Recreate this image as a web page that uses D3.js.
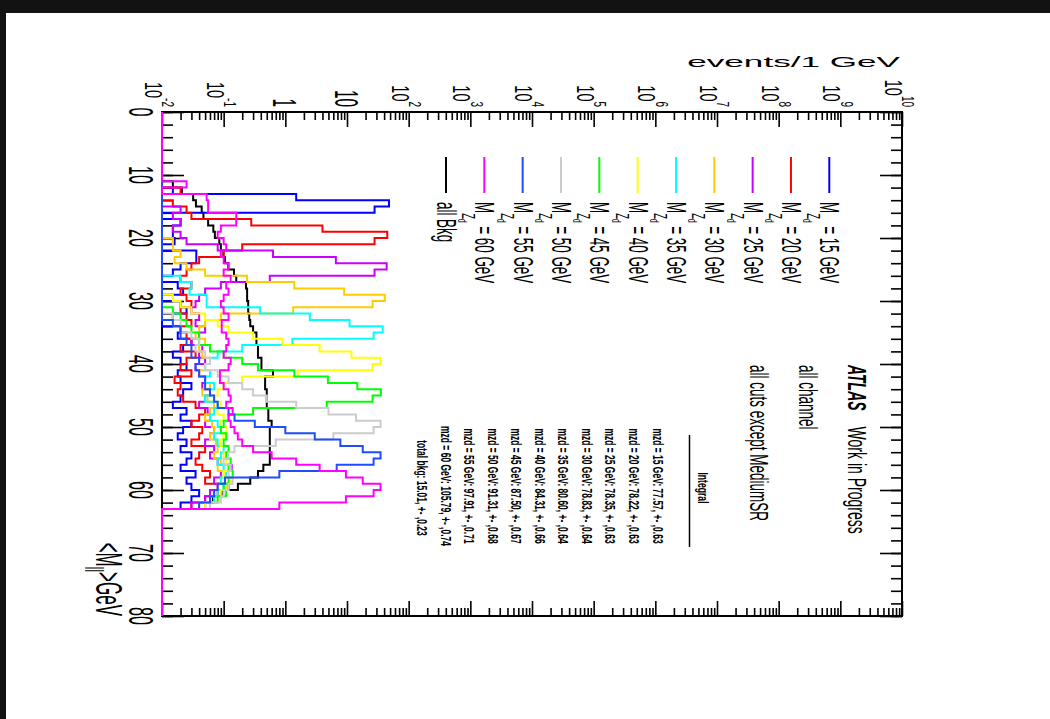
<!DOCTYPE html>
<html>
<head>
<meta charset="utf-8">
<script src="https://cdn.jsdelivr.net/npm/d3@7"></script>
<style>
  body { margin: 0; background: #fff; }
  svg { display: block; }
  text { font-family: "Liberation Sans", Arial, Helvetica, sans-serif; fill: #000; }
</style>
</head>
<body>
<svg id="chart" width="1050" height="719"></svg>
<script>
// ---- data -------------------------------------------------------------
// <M_ll> histograms, 1 GeV bins; every array starts at bin [11,12) and ends at [62,63)
const firstBin = 11;
const massPoints = [15, 20, 25, 30, 35, 40, 45, 50, 55, 60];
const seriesColors = ["#0000ff", "#ff0000", "#cc00ff", "#ffcc00", "#00ffff",
                      "#ffff00", "#00ff00", "#cccccc", "#1f4cff", "#ff00ff"];
const bkgColor = "#000000";

const allBkg = [
  0.015, 0.021, 0.032, 0.0355, 0.044, 0.047, 0.056, 0.068, 0.072, 0.085,
  0.09, 0.099, 0.105, 0.119, 0.147, 0.16, 0.23, 0.24, 0.24, 0.25,
  0.25, 0.26, 0.27, 0.30, 0.34, 0.34, 0.36, 0.36, 0.41, 0.41,
  0.63, 0.47, 0.47, 0.50, 0.50, 0.50, 0.53, 0.53, 0.60, 0.56,
  0.56, 0.56, 0.56, 0.56, 0.56, 0.44, 0.36, 0.27, 0.17, 0.093,
  0.067, 0.05];
const mzd15 = [
  0, 0.015, 1.5, 48, 28, 0, 0.02, 0.015, 0.015, 0.016,
  0, 0.036, 0.036, 0.02, 0.015, 0, 0.018, 0.022, 0, 0.02,
  0.025, 0.015, 0, 0.02, 0.018, 0.03, 0.022, 0.015, 0.02, 0.025,
  0.018, 0.02, 0.03, 0.022, 0.02, 0.015, 0.025, 0.02, 0.03, 0.022,
  0.018, 0.025, 0.02, 0.03, 0.025, 0.02, 0.035, 0.025, 0.03, 0.04,
  0.03, 0.02];
const mzd20 = [
  0, 0.02, 0, 0.015, 0.025, 0.03, 0.28, 4.0, 45, 28,
  0.2, 0.1, 0.04, 0.03, 0.025, 0.02, 0.03, 0.02, 0.025, 0.03,
  0.02, 0.025, 0.03, 0.02, 0.025, 0.03, 0.02, 0.035, 0.025, 0.02,
  0.03, 0.016, 0.02, 0.018, 0.022, 0.035, 0.05, 0.04, 0.03, 0.045,
  0.04, 0.03, 0.05, 0.04, 0.035, 0.045, 0.06, 0.05, 0.12, 0.08,
  0.05, 0.03];
const mzd25 = [
  0, 0, 0, 0, 0.02, 0.015, 0.02, 0.015, 0.02, 0.025,
  0.08, 0.63, 6.6, 44, 28, 0.56, 0.09, 0.05, 0.04, 0.035,
  0.03, 0.04, 0.035, 0.05, 0.04, 0.03, 0.045, 0.04, 0.05, 0.035,
  0.04, 0.05, 0.045, 0.06, 0.05, 0.04, 0.055, 0.06, 0.05, 0.07,
  0.06, 0.05, 0.07, 0.06, 0.08, 0.135, 0.09, 0.07, 0.08, 0.06,
  0.05, 0.03];
const mzd30 = [
  0, 0, 0, 0, 0, 0, 0, 0, 0, 0.015,
  0.015, 0.02, 0.016, 0.025, 0.05, 0.24, 1.4, 9, 41, 26,
  1.34, 0.09, 0.05, 0.04, 0.035, 0.05, 0.04, 0.045, 0.06, 0.05,
  0.04, 0.05, 0.06, 0.045, 0.055, 0.07, 0.06, 0.05, 0.065, 0.07,
  0.06, 0.075, 0.08, 0.07, 0.09, 0.08, 0.1, 0.09, 0.08, 0.07,
  0.06, 0.04];
const mzd35 = [
  0, 0, 0, 0, 0, 0, 0, 0, 0, 0,
  0, 0, 0, 0, 0, 0.02, 0.03, 0.028, 0.053, 0.053,
  0.39, 2.5, 11, 38, 27, 1.3, 0.2, 0.08, 0.06, 0.05,
  0.06, 0.05, 0.07, 0.06, 0.05, 0.08, 0.07, 0.06, 0.08, 0.09,
  0.07, 0.08, 0.1, 0.09, 0.08, 0.1, 0.11, 0.09, 0.1, 0.08,
  0.07, 0.05];
const mzd40 = [
  0, 0, 0, 0, 0, 0, 0, 0, 0, 0,
  0, 0, 0, 0, 0, 0, 0, 0, 0.015, 0.02,
  0.03, 0.05, 0.08, 0.12, 0.3, 0.9, 3.6, 11.8, 35, 26,
  1.6, 0.2, 0.1, 0.08, 0.07, 0.09, 0.08, 0.1, 0.09, 0.11,
  0.1, 0.09, 0.12, 0.1, 0.11, 0.12, 0.1, 0.13, 0.11, 0.09,
  0.08, 0.05];
const mzd45 = [
  0, 0, 0, 0, 0, 0, 0, 0, 0, 0,
  0, 0, 0, 0, 0, 0, 0, 0, 0, 0,
  0.015, 0.02, 0.025, 0.03, 0.04, 0.04, 0.06, 0.1, 0.2, 0.36,
  1.4, 4.9, 14.7, 35.4, 26, 4.7, 0.3, 0.12, 0.1, 0.09,
  0.11, 0.1, 0.12, 0.11, 0.13, 0.12, 0.14, 0.12, 0.1, 0.11,
  0.08, 0.06];
const mzd50 = [
  0, 0, 0, 0, 0, 0, 0, 0, 0, 0,
  0, 0, 0, 0, 0, 0, 0, 0, 0, 0,
  0, 0.015, 0.02, 0.02, 0.03, 0.04, 0.035, 0.05, 0.06, 0.05,
  0.08, 0.12, 0.2, 0.3, 0.5, 1.5, 5, 14, 35, 27,
  6, 0.7, 0.15, 0.12, 0.1, 0.13, 0.12, 0.14, 0.12, 0.1,
  0.09, 0.06];
const mzd55 = [
  0, 0, 0, 0, 0, 0, 0, 0, 0, 0,
  0, 0, 0, 0, 0, 0, 0, 0, 0, 0,
  0, 0, 0.015, 0.02, 0.02, 0.025, 0.03, 0.03, 0.04, 0.035,
  0.04, 0.05, 0.05, 0.06, 0.07, 0.08, 0.12, 0.15, 0.32, 1.0,
  3.0, 7.8, 18, 35, 27, 6.8, 0.8, 0.105, 0.08, 0.07,
  0.06, 0.04];
const mzd60 = [
  0.025, 0, 0.053, 0.056, 0.056, 0.16, 0.16, 0.09, 0.08, 0.1,
  0.11, 0.09, 0.1, 0.12, 0.1, 0.13, 0.11, 0.12, 0.1, 0.09,
  0.1, 0.12, 0.093, 0.093, 0.11, 0.12, 0.11, 0.1, 0.13, 0.12,
  0.087, 0.087, 0.1, 0.12, 0.13, 0.11, 0.14, 0.12, 0.13, 0.15,
  0.17, 0.2, 0.3, 0.6, 1.5, 3.6, 9.6, 18, 35, 27,
  9.6, 0.8];
const signalSeries = [mzd15, mzd20, mzd25, mzd30, mzd35, mzd40, mzd45, mzd50, mzd55, mzd60];

// integral table printed in the plot
const integrals = [77.57, 78.22, 78.35, 78.83, 80.60, 84.31, 87.50, 91.31, 97.91, 105.79];
const integralErrors = [0.63, 0.63, 0.63, 0.64, 0.64, 0.66, 0.67, 0.68, 0.71, 0.74];
const bkgIntegral = 15.01, bkgIntegralError = 0.23;

// axis definitions
const logExponents = d3.range(-2, 11);          // 10^-2 ... 10^10
const mllMajorTicks = d3.range(0, 81, 10);
const mllMinorTicks = d3.range(0, 81, 2);
const nBins = 80;

// ---- layout -----------------------------------------------------------
const svg = d3.select("#chart");
const frame = { left: 162, right: 902, top: 112, bottom: 616 };

// value axis (log) runs left -> right, <M_ll> axis runs top -> bottom
const xv = d3.scaleLog().domain([1e-2, 1e10]).range([frame.left, frame.right]);
const ym = d3.scaleLinear().domain([0, 80]).range([frame.top, frame.bottom]);

// dark surround at the top and left edge
svg.append("rect").attr("x", 0).attr("y", 0).attr("width", 1050).attr("height", 719).attr("fill", "#fff");
svg.append("rect").attr("x", 0).attr("y", 0).attr("width", 1050).attr("height", 13).attr("fill", "#121212");
svg.append("rect").attr("x", 0).attr("y", 0).attr("width", 6).attr("height", 719).attr("fill", "#121212");

// rotated text helper: reads top -> bottom, glyph tops point right, k stretches glyph height
function rotText(parent, X, Y, size, k, anchor) {
  return parent.append("text")
    .attr("transform", `translate(${X},${Y}) rotate(90) scale(1,${k})`)
    .attr("font-size", size)
    .attr("text-anchor", anchor || "start");
}

// ---- frame and axes --------------------------------------------------
const axesG = svg.append("g");

function styleAxis(g) {
  g.select(".domain").remove();
  g.selectAll(".tick line").attr("stroke", "#000").attr("stroke-width", 1.6);
  g.selectAll(".tick text").remove();
}
const logMinor = [];
logExponents.slice(0, -1).forEach(e => { for (let m = 2; m <= 9; m++) logMinor.push(m * Math.pow(10, e)); });
const logMajor = logExponents.map(e => Math.pow(10, e));

axesG.append("g").attr("transform", `translate(0,${frame.top})`)
  .call(d3.axisBottom(xv).tickValues(logMinor).tickSize(8)).call(styleAxis);
axesG.append("g").attr("transform", `translate(0,${frame.top})`)
  .call(d3.axisBottom(xv).tickValues(logMajor).tickSize(15)).call(styleAxis);
axesG.append("g").attr("transform", `translate(0,${frame.bottom})`)
  .call(d3.axisTop(xv).tickValues(logMinor).tickSize(8)).call(styleAxis);
axesG.append("g").attr("transform", `translate(0,${frame.bottom})`)
  .call(d3.axisTop(xv).tickValues(logMajor).tickSize(15)).call(styleAxis);
axesG.append("g").attr("transform", `translate(${frame.left},0)`)
  .call(d3.axisRight(ym).tickValues(mllMinorTicks).tickSize(11)).call(styleAxis);
axesG.append("g").attr("transform", `translate(${frame.left},0)`)
  .call(d3.axisRight(ym).tickValues(mllMajorTicks).tickSize(22)).call(styleAxis);
axesG.append("g").attr("transform", `translate(${frame.right},0)`)
  .call(d3.axisLeft(ym).tickValues(mllMinorTicks).tickSize(11)).call(styleAxis);
axesG.append("g").attr("transform", `translate(${frame.right},0)`)
  .call(d3.axisLeft(ym).tickValues(mllMajorTicks).tickSize(22)).call(styleAxis);

svg.append("rect")
  .attr("x", frame.left).attr("y", frame.top)
  .attr("width", frame.right - frame.left).attr("height", frame.bottom - frame.top)
  .attr("fill", "none").attr("stroke", "#000").attr("stroke-width", 2);

// log axis labels
logExponents.forEach(e => {
  const X = xv(Math.pow(10, e));
  if (e === 0 || e === 1) {
    const t = rotText(svg, X - 12, 107, 15.3, 2.2, "end");
    t.text(e === 0 ? "1" : "10");
  } else {
    const t = rotText(svg, X - 17, 107, 14.5, 1.65, "end");
    t.append("tspan").text("10");
    t.append("tspan").attr("font-size", 10).attr("dy", -10.5).text(String(e));
  }
});

// <M_ll> axis labels
mllMajorTicks.forEach(v => {
  rotText(svg, 129, ym(v), 16.2, 2.16, "middle").text(String(v));
});

// axis titles
{
  const t = rotText(svg, 96, 616, 17, 2.2, "end");
  t.append("tspan").text("<M");
  t.append("tspan").attr("font-size", 12).attr("dy", 5).text("ll");
  t.append("tspan").attr("dy", -5).text(">GeV");
}
svg.append("text")
  .attr("transform", "translate(900,67) scale(2.28,1)")
  .attr("font-size", 15.4).attr("text-anchor", "end")
  .text("events/1 GeV");

// ---- histograms -------------------------------------------------------
const floorValue = 1e-2;
function binValue(arr, b) {
  const i = b - firstBin;
  return (i >= 0 && i < arr.length) ? arr[i] : 0;
}
function stepPoints(arr) {
  const pts = [];
  for (let b = 0; b < nBins; b++) {
    const v = Math.max(binValue(arr, b), floorValue);
    const X = xv(v);
    pts.push([X, ym(b)], [X, ym(b + 1)]);
  }
  return pts;
}
const stepLine = d3.line();
const histG = svg.append("g").attr("fill", "none").attr("stroke-width", 2).attr("stroke-linejoin", "miter");

histG.append("path").attr("d", stepLine(stepPoints(allBkg))).attr("stroke", bkgColor);
signalSeries.forEach((arr, i) => {
  histG.append("path").attr("d", stepLine(stepPoints(arr))).attr("stroke", seriesColors[i]);
});

// ---- legend ------------------------------------------------------------
const legendX = d3.scaleLinear().domain([0, 10]).range([829.3, 446]);
const legendRows = massPoints.map((m, i) => ({ label: m, color: seriesColors[i] }))
  .concat([{ label: null, color: bkgColor }]);
legendRows.forEach((row, i) => {
  const X = legendX(i);
  svg.append("line").attr("x1", X).attr("x2", X).attr("y1", 157).attr("y2", 193)
    .attr("stroke", row.color).attr("stroke-width", 2);
  const t = rotText(svg, X - 9, 202, 13.4, 2.0, "start");
  if (row.label === null) {
    t.text("all Bkg");
  } else {
    t.append("tspan").text("M");
    t.append("tspan").attr("font-size", 9.4).attr("dy", 6.5).text("Z");
    t.append("tspan").attr("font-size", 6.5).attr("dy", 2).text("d");
    t.append("tspan").attr("dy", -8.5).text(` = ${row.label} GeV`);
  }
});

// ---- labels ------------------------------------------------------------
{
  const t = rotText(svg, 848, 365, 14, 1.9, "start");
  t.append("tspan").attr("font-weight", "bold").attr("font-style", "italic").text("ATLAS");
  t.append("tspan").attr("dx", 16).text("Work in Progress");
}
rotText(svg, 799, 365, 13.5, 1.9, "start").text("all channel");
rotText(svg, 750, 365, 13.5, 1.9, "start").text("all cuts except MediumSR");

// integral table
svg.append("line").attr("x1", 689.5).attr("x2", 689.5).attr("y1", 435).attr("y2", 547)
  .attr("stroke", "#000").attr("stroke-width", 1.5);
rotText(svg, 698, 488, 8.6, 1.7, "middle").attr("font-weight", "bold").text("Integral");
const rowX = d3.scaleLinear().domain([0, 10]).range([652.5, 417]);
massPoints.forEach((m, i) => {
  rotText(svg, rowX(i), 486, 8.5, 1.75, "middle").attr("font-weight", "bold")
    .text(`mzd = ${m} GeV: ${integrals[i].toFixed(2)}, +- ,${integralErrors[i].toFixed(2)}`);
});
rotText(svg, rowX(10), 488, 8.5, 1.75, "middle").attr("font-weight", "bold")
  .text(`total bkg: ${bkgIntegral.toFixed(2)}, +- ,${bkgIntegralError.toFixed(2)}`);
</script>
</body>
</html>
